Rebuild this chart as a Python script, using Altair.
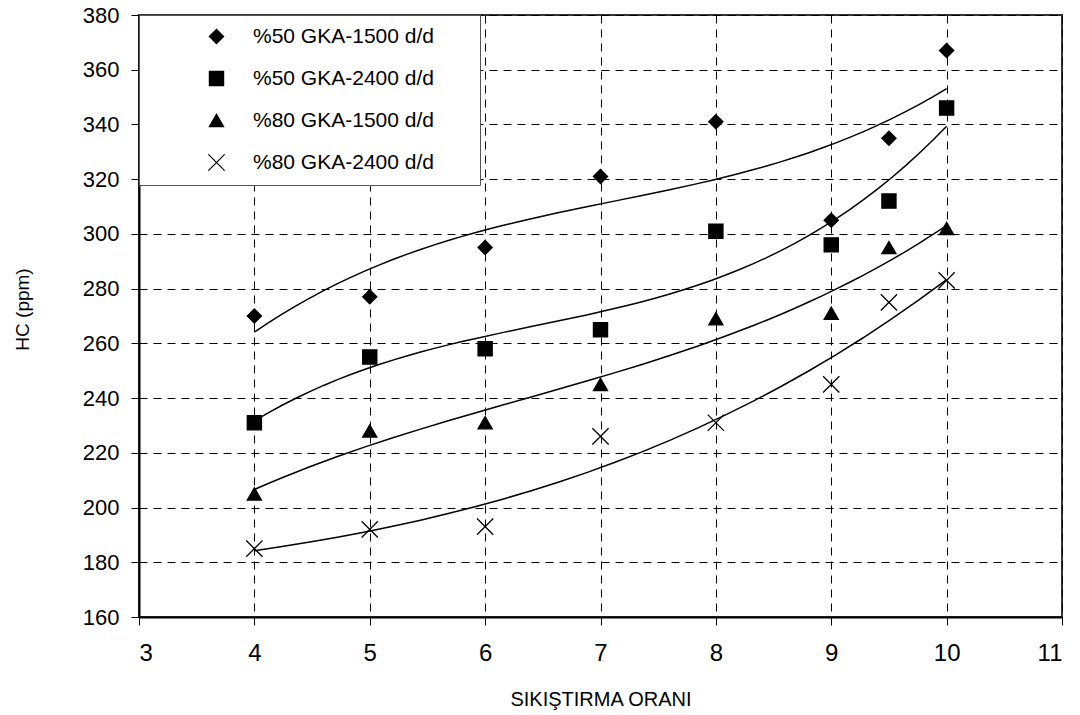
import altair as alt
import pandas as pd

# ---- data ----
x_vals = [4, 5, 6, 7, 8, 9, 9.5, 10]
series_names = ["%50 GKA-1500 d/d", "%50 GKA-2400 d/d", "%80 GKA-1500 d/d", "%80 GKA-2400 d/d"]
hc_50_1500 = [270, 277, 295, 321, 341, 305, 335, 367]
hc_50_2400 = [231, 255, 258, 265, 301, 296, 312, 346]
hc_80_1500 = [205, 228, 231, 245, 269, 271, 295, 302]
hc_80_2400 = [185, 192, 193, 226, 231, 245, 275, 283]
x_ticks = [3, 4, 5, 6, 7, 8, 9, 10, 11]
y_ticks = [160, 180, 200, 220, 240, 260, 280, 300, 320, 340, 360, 380]

series_values = [hc_50_1500, hc_50_2400, hc_80_1500, hc_80_2400]
rows = []
for name, vals in zip(series_names, series_values):
    for xv, yv in zip(x_vals, vals):
        rows.append({"series": name, "x": xv, "hc": yv})
df = pd.DataFrame(rows)

FONT = "Liberation Sans, Arial, sans-serif"
# trailing blank room in the legend box (non-breaking spaces kept by a zero-width char)
LEGEND_TAIL = "\u00a0" * 6 + "\u200b"

x_enc = alt.X(
    "x:Q",
    scale=alt.Scale(domain=[3, 11], nice=False, zero=False),
    axis=alt.Axis(
        values=x_ticks, title="SIKIŞTIRMA ORANI", format="d",
        titleY=82, titleBaseline="middle", labelPadding=16,
        labelFontSize=24, titleFontSize=20,
    ),
)
y_enc = alt.Y(
    "hc:Q",
    scale=alt.Scale(domain=[160, 380], nice=False, zero=False),
    axis=alt.Axis(
        values=y_ticks, title="HC (ppm)", format="d",
        titleX=-117, titleY=294, titleBaseline="middle", titleAngle=270,
        labelPadding=12, labelFontSize=22, titleFontSize=19,
    ),
)

trend = (
    alt.Chart(df)
    .transform_regression("x", "hc", groupby=["series"], method="poly", order=3, extent=[4, 10])
    .mark_line(color="black", strokeWidth=1.5)
    .encode(x=x_enc, y=y_enc, detail="series:N")
)

legend = alt.Legend(
    title=None, orient="none", legendX=0, legendY=0,
    fillColor="white", strokeColor="#555555", padding=11,
    symbolOffset=56, labelOffset=26, rowPadding=20,
    labelFontSize=21, labelFont=FONT, labelColor="black", labelLimit=500,
    symbolStrokeWidth=1.3, symbolSize=200,
    labelExpr="datum.label + '" + LEGEND_TAIL + "'",
)

points = (
    alt.Chart(df)
    .mark_point(filled=False, fill="black", fillOpacity=1,
                strokeWidth=1.3, opacity=1, size=200)
    .encode(
        x=x_enc,
        y=y_enc,
        shape=alt.Shape(
            "series:N",
            scale=alt.Scale(domain=series_names,
                            range=["diamond", "square", "triangle-up",
                                   "M-1.15,-1.15L1.15,1.15M1.15,-1.15L-1.15,1.15"]),
            legend=legend,
        ),
        stroke=alt.Stroke(
            "series:N",
            scale=alt.Scale(domain=series_names, range=["black", "black", "black", "black"]),
            legend=legend,
        ),
    )
)

chart = (
    alt.layer(trend, points)
    .properties(
        width=923, height=602,
        autosize=alt.AutoSizeParams(type="none"),
        padding={"left": 139, "top": 15, "right": 18, "bottom": 98},
        background="white",
    )
    .configure_view(stroke="#333333", strokeWidth=2)
    .configure_axis(
        grid=True, gridColor="black", gridDash=[8, 6], gridWidth=1, gridOpacity=1,
        domainColor="black", domainWidth=2,
        tickColor="black", tickSize=8, tickWidth=1,
        labelFont=FONT, titleFont=FONT, labelColor="black", titleColor="black",
        titleFontWeight="normal",
    )
)

chart.save("out.html", embed_options={"renderer": "svg", "actions": False})
